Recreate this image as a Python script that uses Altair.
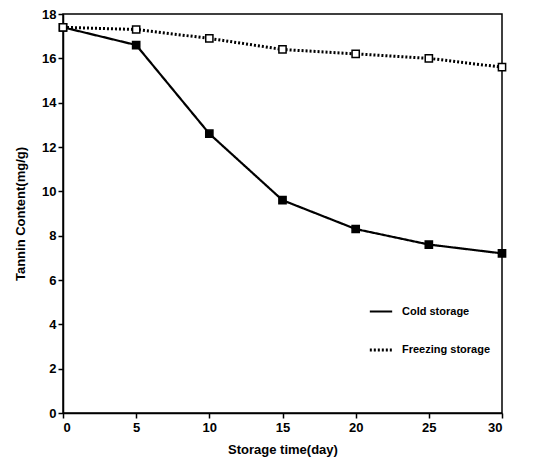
import altair as alt
import pandas as pd

days = [0, 5, 10, 15, 20, 25, 30]
cold = [17.4, 16.6, 12.6, 9.6, 8.3, 7.6, 7.2]
freezing = [17.4, 17.3, 16.9, 16.4, 16.2, 16.0, 15.6]
series_names = ["Cold storage", "Freezing storage"]

df = pd.DataFrame(
    {
        "day": days * 2,
        "tannin": cold + freezing,
        "series": [series_names[0]] * len(days) + [series_names[1]] * len(days),
    }
)

font = "Liberation Sans"

legend = alt.Legend(
    title=None,
    orient="none",
    legendX=305,
    legendY=285,
    labelFont=font,
    labelFontWeight="bold",
    labelFontSize=11,
    labelColor="black",
    symbolType="stroke",
    symbolSize=500,
    symbolStrokeWidth=3,
    symbolStrokeColor="black",
    rowPadding=20,
    labelOffset=8,
)

x = alt.X(
    "day:Q",
    scale=alt.Scale(domain=[0, 30], nice=False),
    axis=alt.Axis(values=[0, 5, 10, 15, 20, 25, 30], title="Storage time(day)", grid=False),
)
y = alt.Y(
    "tannin:Q",
    scale=alt.Scale(domain=[0, 18], nice=False),
    axis=alt.Axis(values=list(range(0, 19, 2)), title="Tannin Content(mg/g)", grid=False),
)

lines = alt.Chart(df).mark_line(color="black").encode(
    x=x,
    y=y,
    strokeDash=alt.StrokeDash(
        "series:N",
        scale=alt.Scale(domain=series_names, range=[[1, 0], [2, 2]]),
        legend=legend,
    ),
    strokeWidth=alt.StrokeWidth(
        "series:N",
        scale=alt.Scale(domain=series_names, range=[2.2, 3]),
        legend=None,
    ),
)

points = alt.Chart(df).mark_point(
    shape="square", stroke="black", strokeWidth=1.5, opacity=1, filled=False, size=52
).encode(
    x=x,
    y=y,
    fill=alt.Fill(
        "series:N",
        scale=alt.Scale(domain=series_names, range=["black", "white"]),
        legend=None,
    ),
)

chart = (
    alt.layer(lines, points)
    .properties(
        width=439,
        height=399,
        autosize=alt.AutoSizeParams(type="none"),
        padding={"left": 55, "top": 6, "right": 20, "bottom": 50},
        background="white",
    )
    .configure_view(stroke="black", strokeWidth=1.5)
    .configure_axis(
        grid=False,
        domainColor="black",
        domainWidth=1.5,
        tickColor="black",
        tickSize=5,
        tickWidth=1.5,
        labelFont=font,
        labelFontWeight="bold",
        labelFontSize=13,
        labelColor="black",
        titleFont=font,
        titleFontWeight="bold",
        titleFontSize=13,
        titleColor="black",
    )
    .configure_axisY(titlePadding=14, labelPadding=2)
    .configure_axisX(titlePadding=9, labelPadding=3)
)

chart.save("out.html", embed_options={"renderer": "svg", "actions": False})
